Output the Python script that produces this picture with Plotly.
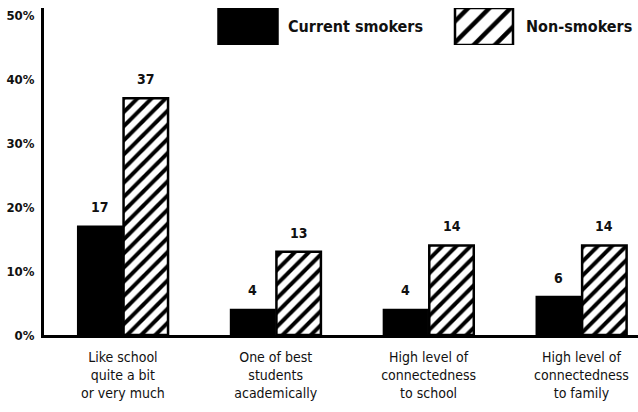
import plotly.graph_objects as go

# Survey measures (percent of students)
categories = [
    "Like school<br>quite a bit<br>or very much",
    "One of best<br>students<br>academically",
    "High level of<br>connectedness<br>to school",
    "High level of<br>connectedness<br>to family",
]
current_smokers = [17, 4, 4, 6]
non_smokers = [37, 13, 14, 14]
series_names = ["Current smokers", "Non-smokers"]
y_ticks = [0, 10, 20, 30, 40, 50]
y_tick_labels = ["0%", "10%", "20%", "30%", "40%", "50%"]

FONT = "DejaVu Sans Condensed, Liberation Sans, Arial, sans-serif"
INK = "#111111"
hatch = dict(shape="/", fgcolor="#000000", fgopacity=1, bgcolor="white", size=10, solidity=0.4)

x = list(range(len(categories)))
fig = go.Figure()
fig.add_trace(go.Bar(
    x=x, y=current_smokers, name=series_names[0],
    marker=dict(color="black", line=dict(color="black", width=1.5)),
    showlegend=False,
))
fig.add_trace(go.Bar(
    x=x, y=non_smokers, name=series_names[1],
    marker=dict(color="white", pattern=hatch, line=dict(color="black", width=2.5)),
    showlegend=False,
))

# value labels above each bar
group_gap, bar_gap = 0.4, 0.03
slot = (1 - group_gap) / 2
for vals, off in ((current_smokers, -slot / 2), (non_smokers, slot / 2)):
    for xi, v in zip(x, vals):
        fig.add_annotation(
            x=xi + off, y=v, xref="x", yref="y", text=str(v), showarrow=False,
            yanchor="bottom", yshift=9,
            font=dict(family=FONT, size=14, color=INK, weight="bold"),
        )

# legend swatches drawn on a small overlay axis (pixel-like units)
fig.add_trace(go.Bar(
    x=[248], y=[1], width=[60], xaxis="x2", yaxis="y2",
    marker=dict(color="black", line=dict(color="black", width=1.5)),
    showlegend=False, hoverinfo="skip",
))
fig.add_trace(go.Bar(
    x=[484], y=[1], width=[58], xaxis="x2", yaxis="y2",
    marker=dict(color="white",
                pattern=dict(shape="/", fgcolor="#000000", fgopacity=1, bgcolor="white",
                             size=15, solidity=0.3),
                line=dict(color="black", width=2.5)),
    showlegend=False, hoverinfo="skip",
))
for name, xpos in ((series_names[0], 286), (series_names[1], 524)):
    fig.add_annotation(
        x=xpos, y=0.5, xref="x2", yref="y2", text=name, showarrow=False,
        xanchor="left", yanchor="middle",
        font=dict(family=FONT, size=16, color=INK, weight="bold"),
    )

fig.update_layout(
    width=638, height=412,
    margin=dict(l=44, r=0, t=8, b=77),
    paper_bgcolor="white", plot_bgcolor="white",
    barmode="group", bargap=group_gap, bargroupgap=bar_gap,
    xaxis=dict(
        tickmode="array", tickvals=x, ticktext=categories,
        range=[-0.516, 3.37], showgrid=False, zeroline=False,
        showline=True, linecolor="black", linewidth=3,
        ticks="outside", ticklen=7, tickcolor="rgba(0,0,0,0)",
        tickfont=dict(family=FONT, size=14, color=INK),
    ),
    yaxis=dict(
        tickmode="array", tickvals=y_ticks, ticktext=y_tick_labels,
        range=[0, 51.1], showgrid=False, zeroline=False,
        showline=True, linecolor="black", linewidth=3,
        ticks="outside", ticklen=4, tickcolor="rgba(0,0,0,0)",
        tickfont=dict(family=FONT, size=13, color=INK, weight="bold"),
    ),
    xaxis2=dict(domain=[0, 1], range=[44, 638], anchor="y2", visible=False),
    yaxis2=dict(domain=[(335 - 45) / 327, (335 - 8) / 327], range=[0, 1],
                anchor="x2", visible=False),
)

fig.write_html("out.html")
